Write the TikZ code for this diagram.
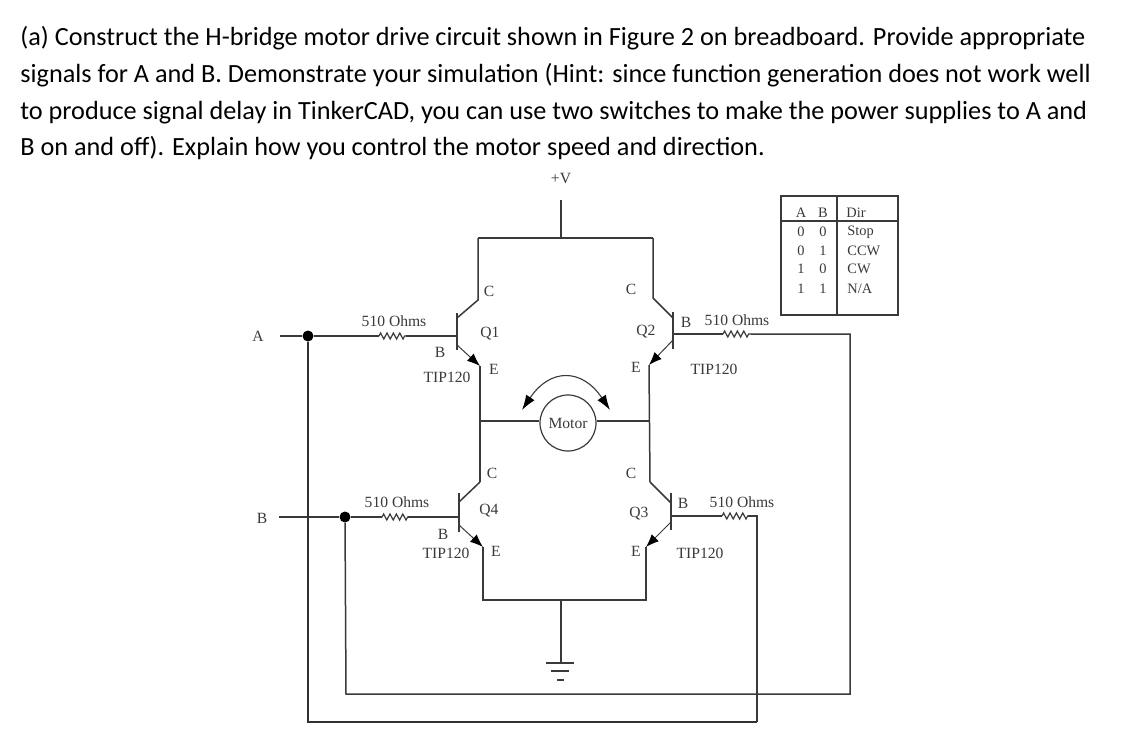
\documentclass[tikz,border=0pt]{standalone}
\usepackage{fontspec}
\setmainfont{Liberation Serif}
\newfontfamily\hdfont{Carlito}
\usetikzlibrary{arrows.meta,decorations.pathmorphing}
\definecolor{ink}{HTML}{3A3A3A}
\tikzset{
  wire/.style={draw=ink,line width=0.75pt,line join=miter},
  thick wire/.style={draw=ink!85!black,line width=1.1pt},
  res/.style={draw=ink,line width=0.6pt,decorate,decoration={zigzag,segment length=3.2pt,amplitude=1.5pt}},
  tip/.style={draw=ink,line width=0.5pt,-{Latex[length=6.5pt,width=5pt,black]}},
  lab/.style={font=\fontsize{7.8}{9}\selectfont,text=ink,inner sep=0pt},
  tab/.style={font=\fontsize{7.2}{9}\selectfont,text=ink,inner sep=0pt},
  tabl/.style={tab,anchor=west},
  hd/.style={font=\hdfont\fontsize{13.12}{15}\selectfont,text=black,anchor=base west,inner sep=0pt},
  dot/.style={circle,fill=black,inner sep=0pt,minimum size=5.5pt}
}
\begin{document}
\begin{tikzpicture}[x=0.5pt,y=-0.5pt]
\fill[white] (0,0) rectangle (1148,750);
\useasboundingbox (0,0) rectangle (1148,750);
% header
\node[hd] (h1) at (20,45.5) {(a) Construct the H-bridge motor drive circuit shown in Figure 2 on breadboard. Provide appropriate};
\node[hd] (h2) at (20,82) {signals for A and B. Demonstrate your simulation (Hint: since function generation does not work well};
\node[hd] (h3) at (20,119) {to produce signal delay in TinkerCAD, you can use two switches to make the power supplies to A and};
\node[hd] (h4) at (20,155) {B on and off). Explain how you control the motor speed and direction.};
% supply
\node[lab] (vplus) at (561,179) {+V};
\coordinate (vtop) at (561,200);
\coordinate (vbus) at (561,238);
\coordinate (q1top) at (478,238);
\coordinate (q2top) at (653,238);
\draw[wire] (vtop) -- (vbus);
\draw[wire] (q1top) -- (q2top);
% Q1
\coordinate (q1barT) at (457,313); \coordinate (q1barB) at (457,350);
\coordinate (q1b) at (457,336);
\coordinate (q1cs) at (457,318); \coordinate (q1c) at (478,300);
\coordinate (q1es) at (457,345); \coordinate (q1e) at (480,366);
\draw[wire] (q1barT) -- (q1barB);
\draw[wire] (q1cs) -- (q1c) -- (q1top);
\draw[tip] (q1es) -- (q1e);
% Q2
\coordinate (q2barT) at (673,312); \coordinate (q2barB) at (673,349);
\coordinate (q2b) at (673,334);
\coordinate (q2cs) at (673,318); \coordinate (q2c) at (653,298);
\coordinate (q2es) at (673,340); \coordinate (q2e) at (649,365);
\draw[wire] (q2barT) -- (q2barB);
\draw[wire] (q2cs) -- (q2c) -- (q2top);
\draw[tip] (q2es) -- (q2e);
% Q4
\coordinate (q4barT) at (459,493); \coordinate (q4barB) at (459,532);
\coordinate (q4b) at (459,517);
\coordinate (q4cs) at (459,502); \coordinate (q4c) at (480,482);
\coordinate (q4es) at (459,525); \coordinate (q4e) at (483,547);
\draw[wire] (q4barT) -- (q4barB);
\draw[wire] (q4cs) -- (q4c);
\draw[tip] (q4es) -- (q4e);
% Q3
\coordinate (q3barT) at (671,493); \coordinate (q3barB) at (671,530);
\coordinate (q3b) at (671,516);
\coordinate (q3cs) at (671,503); \coordinate (q3c) at (650,482);
\coordinate (q3es) at (671,522); \coordinate (q3e) at (646,547);
\draw[wire] (q3barT) -- (q3barB);
\draw[wire] (q3cs) -- (q3c);
\draw[tip] (q3es) -- (q3e);
% bridge legs and motor
\node[circle,draw=ink,line width=0.6pt,inner sep=0pt,minimum size=28pt,font=\fontsize{7.8}{9}\selectfont,text=ink] (motor) at (568,423) {Motor};
\coordinate (legL) at (480,421);
\coordinate (legR) at (650,421);
\draw[wire] (q1e) -- (q4c);
\draw[wire] (q2e) -- (q3c);
\draw[wire] (legL) -- (motor.west |- legL);
\draw[wire] (motor.east |- legR) -- (legR);
\coordinate (arcL) at (522,410); \coordinate (arcR) at (610,410);
\coordinate (arcC1) at (550,368); \coordinate (arcC2) at (582,368);
\draw[draw=ink,line width=0.55pt,{Latex[length=7.5pt,width=5pt,black]}-{Latex[length=7.5pt,width=5pt,black]}] (arcL) .. controls (arcC1) and (arcC2) .. (arcR);
% ground
\coordinate (botL) at (483,600); \coordinate (botR) at (646,600);
\coordinate (gndT) at (561,600); \coordinate (gnd1) at (561,663);
\draw[wire] (q4e) -- (botL) -- (botR) -- (q3e);
\draw[wire] (gndT) -- (gnd1);
\coordinate (g1a) at (546,663); \coordinate (g1b) at (574,663);
\coordinate (g2a) at (551,671); \coordinate (g2b) at (569,671);
\coordinate (g3a) at (557,680); \coordinate (g3b) at (564,680);
\draw[wire] (g1a) -- (g1b);
\draw[wire] (g2a) -- (g2b);
\draw[wire] (g3a) -- (g3b);
% inputs
\node[lab] (inA) at (258,336) {A};
\node[lab] (inB) at (262,518) {B};
\node[dot] (dotA) at (308,336) {};
\node[dot] (dotB) at (345,517) {};
\coordinate (inAe) at (280,336); \coordinate (inBe) at (279,517);
\coordinate (r1a) at (379,336); \coordinate (r1b) at (406,336);
\coordinate (r4a) at (382,517); \coordinate (r4b) at (408,517);
\coordinate (r2a) at (723,334); \coordinate (r2b) at (751,334);
\coordinate (r3a) at (722,516); \coordinate (r3b) at (748,516);
\draw[wire] (inAe) -- (dotA) -- (r1a);
\draw[res] (r1a) -- (r1b);
\draw[wire] (r1b) -- (q1b);
\draw[wire] (inBe) -- (dotB) -- (r4a);
\draw[res] (r4a) -- (r4b);
\draw[wire] (r4b) -- (q4b);
\draw[wire] (q2b) -- (r2a);
\draw[res] (r2a) -- (r2b);
\draw[wire] (q3b) -- (r3a);
\draw[res] (r3a) -- (r3b);
% feedback loops
\coordinate (aBL) at (308,722); \coordinate (aBR) at (757,722); \coordinate (aTR) at (757,516);
\coordinate (bBL) at (346,694); \coordinate (bBR) at (850,694); \coordinate (bTR) at (850,334);
\draw[thick wire] (dotA) -- (aBL) -- (aBR);
\draw[wire] (aBR) -- (aTR) -- (r3b);
\draw[wire] (dotB) -- (bBL) -- (bBR) -- (bTR) -- (r2b);
% labels
\node[lab] (l1) at (394,321) {510 Ohms};
\node[lab] (l2) at (397,502) {510 Ohms};
\node[lab] (l3) at (737,320) {510 Ohms};
\node[lab] (l4) at (742,502) {510 Ohms};
\node[lab] (c1) at (489,291) {C};
\node[lab] (q1l) at (490,334) {Q1};
\node[lab] (b1) at (440,352) {B};
\node[lab] (e1) at (494,369) {E};
\node[lab] (t1) at (447,377) {TIP120};
\node[lab] (c2) at (631,289) {C};
\node[lab] (q2l) at (646,332) {Q2};
\node[lab] (b2) at (686,322) {B};
\node[lab] (e2) at (636,367) {E};
\node[lab] (t2) at (714,369) {TIP120};
\node[lab] (c4) at (492,473) {C};
\node[lab] (q4l) at (489,511) {Q4};
\node[lab] (b4) at (443,534) {B};
\node[lab] (e4) at (496,551) {E};
\node[lab] (t4) at (446,553) {TIP120};
\node[lab] (c3) at (631,473) {C};
\node[lab] (q3l) at (639,514) {Q3};
\node[lab] (b3) at (683,503) {B};
\node[lab] (e3) at (636,551) {E};
\node[lab] (t3) at (700,553) {TIP120};
% table
\node[draw=ink,line width=0.8pt,minimum width=58.5pt,minimum height=59.5pt,inner sep=0pt,anchor=north west] (tbl) at (780,195) {};
\coordinate (tdT) at (837,195); \coordinate (tdB) at (837,315);
\coordinate (thL) at (780,221); \coordinate (thR) at (897,221);
\draw[wire] (tdT) -- (tdB);
\draw[wire] (thL) -- (thR);
\node[tab] (ta) at (801,213) {A}; \node[tab] (tb) at (823,213) {B}; \node[tabl] (td) at (846,213) {Dir};
\node[tab] (a0) at (801,232) {0}; \node[tab] (b0) at (823,232) {0}; \node[tabl] (d0) at (847,232) {Stop};
\node[tab] (a1) at (801,251) {0}; \node[tab] (b1x) at (823,251) {1}; \node[tabl] (d1) at (847,251) {CCW};
\node[tab] (a2) at (801,269) {1}; \node[tab] (b2x) at (823,269) {0}; \node[tabl] (d2) at (847,269) {CW};
\node[tab] (a3) at (801,289) {1}; \node[tab] (b3x) at (823,289) {1}; \node[tabl] (d3) at (847,289) {N/A};
\end{tikzpicture}
\end{document}
